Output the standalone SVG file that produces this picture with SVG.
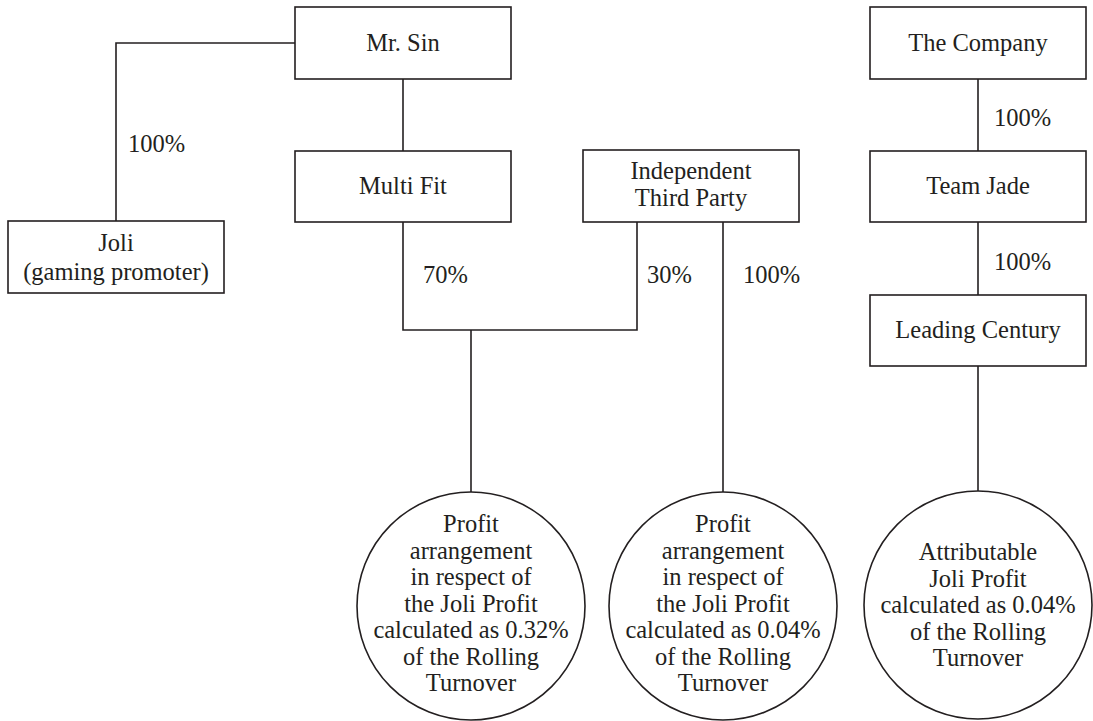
<svg xmlns="http://www.w3.org/2000/svg" width="1093" height="721" viewBox="0 0 1093 721">
<style>
.b{fill:#fff;stroke:#231f20;stroke-width:1.6}
.c{fill:none;stroke:#231f20;stroke-width:1.6}
text{font-family:"Liberation Serif","DejaVu Serif",serif;font-size:24.5px;fill:#231f20}
.m{text-anchor:middle}
</style>
<rect width="1093" height="721" fill="#fff"/>
<g id="connectors">
<path class="c" d="M295,43 H116 V221"/>
<path class="c" d="M403,79 V151"/>
<path class="c" d="M403,222 V330 H637 V222"/>
<path class="c" d="M471,330 V492"/>
<path class="c" d="M723,222 V492"/>
<path class="c" d="M978,79 V151"/>
<path class="c" d="M978,222 V295"/>
<path class="c" d="M978,366 V491"/>
<text x="128" y="152">100%</text>
<text x="423" y="283">70%</text>
<text x="647" y="283">30%</text>
<text x="743" y="283">100%</text>
<text x="994" y="126">100%</text>
<text x="994" y="270">100%</text>
</g>
<g id="mr-sin"><rect class="b" x="295" y="7" width="216" height="72"/><text class="m" x="403" y="51">Mr. Sin</text></g>
<g id="joli"><rect class="b" x="8" y="221" width="216" height="72"/><text class="m" x="116" y="251">Joli</text><text class="m" x="116" y="280">(gaming promoter)</text></g>
<g id="multi-fit"><rect class="b" x="295" y="151" width="216" height="71"/><text class="m" x="403" y="194">Multi Fit</text></g>
<g id="independent-third-party"><rect class="b" x="583" y="150" width="216" height="72"/><text class="m" x="691" y="179">Independent</text><text class="m" x="691" y="206">Third Party</text></g>
<g id="the-company"><rect class="b" x="870" y="7" width="216" height="72"/><text class="m" x="978" y="51">The Company</text></g>
<g id="team-jade"><rect class="b" x="870" y="151" width="216" height="71"/><text class="m" x="978" y="194">Team Jade</text></g>
<g id="leading-century"><rect class="b" x="870" y="295" width="216" height="71"/><text class="m" x="978" y="338">Leading Century</text></g>
<g id="profit-1"><circle class="b" cx="471" cy="606" r="114"/>
<text class="m" x="471" y="532">Profit</text><text class="m" x="471" y="559">arrangement</text><text class="m" x="471" y="585">in respect of</text><text class="m" x="471" y="612">the Joli Profit</text><text class="m" x="471" y="638">calculated as 0.32%</text><text class="m" x="471" y="665">of the Rolling</text><text class="m" x="471" y="691">Turnover</text></g>
<g id="profit-2"><circle class="b" cx="723" cy="606" r="114"/>
<text class="m" x="723" y="532">Profit</text><text class="m" x="723" y="559">arrangement</text><text class="m" x="723" y="585">in respect of</text><text class="m" x="723" y="612">the Joli Profit</text><text class="m" x="723" y="638">calculated as 0.04%</text><text class="m" x="723" y="665">of the Rolling</text><text class="m" x="723" y="691">Turnover</text></g>
<g id="attributable"><circle class="b" cx="978" cy="605" r="114"/>
<text class="m" x="978" y="560">Attributable</text><text class="m" x="978" y="587">Joli Profit</text><text class="m" x="978" y="613">calculated as 0.04%</text><text class="m" x="978" y="640">of the Rolling</text><text class="m" x="978" y="666">Turnover</text></g>
</svg>
